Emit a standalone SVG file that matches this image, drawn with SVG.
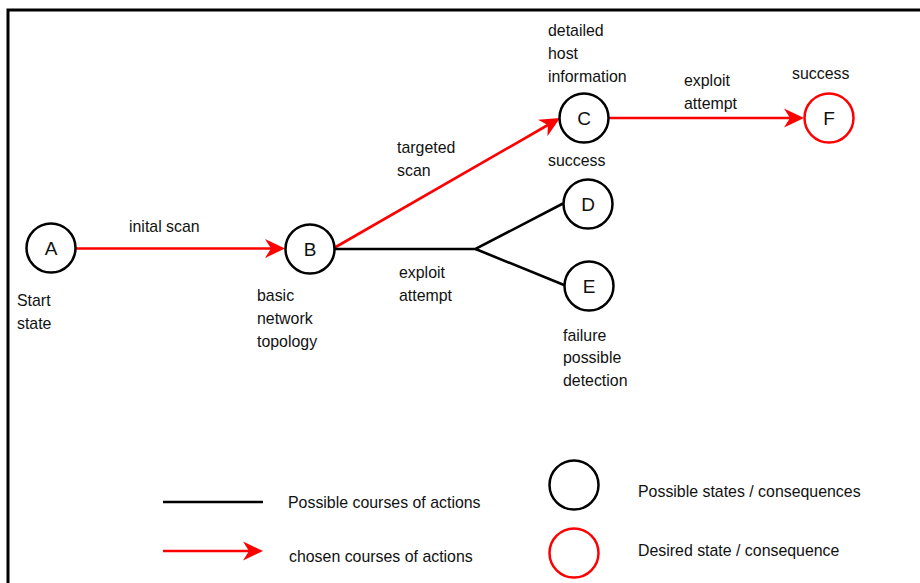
<svg xmlns="http://www.w3.org/2000/svg" width="920" height="583" viewBox="0 0 920 583">
  <defs>
    <style>
      .node circle { fill: #ffffff; stroke: #000000; stroke-width: 2.5; }
      .node.goal circle { stroke: #ff0000; }
      .node text.id { font-family: "Liberation Sans", Arial, sans-serif; font-size: 19px; fill: #111111; text-anchor: middle; }
      .lbl { font-family: "Liberation Sans", Arial, sans-serif; font-size: 15.9px; fill: #111111; }
      .edge { fill: none; stroke-width: 2.6; }
      .plain { stroke: #000000; }
      .chosen { stroke: #ff0000; }
    </style>
    <marker id="arrowRed" viewBox="0 0 20 20" markerWidth="20" markerHeight="20" markerUnits="userSpaceOnUse" refX="6" refY="10" orient="auto">
      <path d="M0,0.5 L20,10 L0,19.5 L6,10 Z" fill="#ff0000"/>
    </marker>
  </defs>

  <rect width="920" height="583" fill="#ffffff"/>
  <!-- outer frame, running past the right and bottom edges -->
  <rect x="8" y="10" width="930" height="600" fill="none" stroke="#000000" stroke-width="3"/>

  <!-- connectors -->
  <g id="connectors">
    <line class="edge chosen" x1="76" y1="248.5" x2="271" y2="248.5" marker-end="url(#arrowRed)"/>
    <line class="edge chosen" x1="334" y1="248" x2="547.9" y2="125" marker-end="url(#arrowRed)"/>
    <line class="edge chosen" x1="608" y1="118" x2="790" y2="118" marker-end="url(#arrowRed)"/>
    <polyline class="edge plain" points="334,249 475.5,249 563,203.5"/>
    <line class="edge plain" x1="475.5" y1="249" x2="564" y2="285"/>
  </g>

  <!-- edge labels -->
  <g id="edge-labels" class="lbl">
    <text x="129" y="232">inital scan</text>
    <text x="397" y="153">targeted</text>
    <text x="397" y="176">scan</text>
    <text x="399" y="278">exploit</text>
    <text x="399" y="301">attempt</text>
    <text x="684" y="86">exploit</text>
    <text x="684" y="109">attempt</text>
  </g>

  <!-- states -->
  <g id="node-A" class="node">
    <circle cx="51" cy="248" r="24.5"/>
    <text class="id" x="51" y="255">A</text>
    <text class="lbl" x="17" y="306">Start</text>
    <text class="lbl" x="17" y="329">state</text>
  </g>
  <g id="node-B" class="node">
    <circle cx="310" cy="249" r="24.5"/>
    <text class="id" x="310" y="256">B</text>
    <text class="lbl" x="257" y="301">basic</text>
    <text class="lbl" x="257" y="324">network</text>
    <text class="lbl" x="257" y="347">topology</text>
  </g>
  <g id="node-C" class="node">
    <circle cx="584" cy="118" r="24.5"/>
    <text class="id" x="584" y="125">C</text>
    <text class="lbl" x="548" y="36">detailed</text>
    <text class="lbl" x="548" y="59">host</text>
    <text class="lbl" x="548" y="82">information</text>
  </g>
  <g id="node-D" class="node">
    <circle cx="588" cy="204" r="24.5"/>
    <text class="id" x="588" y="211">D</text>
    <text class="lbl" x="548" y="166">success</text>
  </g>
  <g id="node-E" class="node">
    <circle cx="589" cy="286" r="24.5"/>
    <text class="id" x="589" y="293">E</text>
    <text class="lbl" x="563" y="341">failure</text>
    <text class="lbl" x="563" y="363">possible</text>
    <text class="lbl" x="563" y="386">detection</text>
  </g>
  <g id="node-F" class="node goal">
    <circle cx="829" cy="118" r="24.5"/>
    <text class="id" x="829" y="125">F</text>
    <text class="lbl" x="792" y="79">success</text>
  </g>

  <!-- legend -->
  <g id="legend">
    <line class="edge plain" x1="163" y1="502" x2="263" y2="502"/>
    <line class="edge chosen" x1="163" y1="551" x2="249" y2="551" marker-end="url(#arrowRed)"/>
    <text class="lbl" x="288" y="508">Possible courses of actions</text>
    <text class="lbl" x="289" y="562">chosen courses of actions</text>
    <g class="node"><circle cx="574" cy="485" r="24.5"/></g>
    <g class="node goal"><circle cx="574" cy="553" r="24.5"/></g>
    <text class="lbl" x="638" y="497">Possible states / consequences</text>
    <text class="lbl" x="638" y="556">Desired state / consequence</text>
  </g>
</svg>
